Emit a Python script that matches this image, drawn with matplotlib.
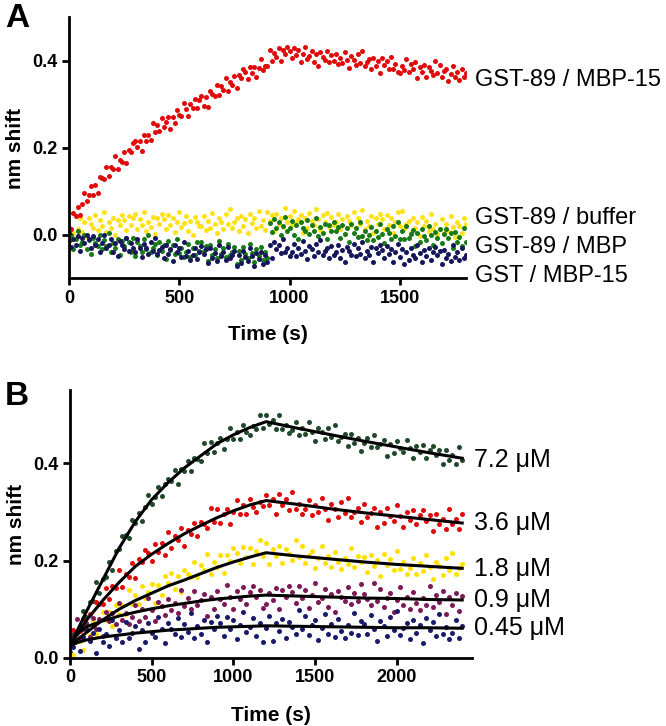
import numpy as np
import matplotlib.pyplot as plt
from matplotlib.ticker import FormatStrFormatter

# ==========================================================
# DONNEES (decalage en pm = 0.001 nm)
# ==========================================================

# Panneau A : une mesure toutes les 10 s
time_a = np.arange(0, 1801, 10)

gst89_mbp15 = [
    16, 14, 51, 44, 64, 45, 72, 97, 78, 92,
    112, 92, 116, 96, 134, 131, 129, 156, 135, 157,
    151, 181, 152, 173, 168, 191, 165, 196, 190, 211,
    215, 202, 217, 194, 229, 215, 230, 218, 257, 236,
    252, 238, 268, 249, 260, 272, 243, 272, 258, 287,
    277, 273, 303, 289, 273, 302, 293, 313, 291, 311,
    320, 297, 318, 295, 330, 324, 320, 345, 322, 342,
    334, 362, 331, 351, 344, 365, 338, 368, 361, 381,
    374, 359, 387, 372, 387, 363, 384, 404, 379, 389,
    389, 426, 399, 419, 410, 429, 399, 426, 416, 433,
    424, 406, 431, 413, 425, 398, 417, 433, 405, 412,
    424, 397, 415, 388, 420, 410, 403, 424, 398, 414,
    401, 417, 392, 408, 396, 421, 402, 384, 411, 403,
    390, 415, 396, 422, 389, 397, 404, 381, 406, 389,
    399, 373, 407, 390, 399, 381, 410, 382, 392, 374,
    373, 389, 379, 405, 374, 392, 381, 397, 362, 386,
    375, 391, 364, 386, 378, 368, 400, 373, 390, 364,
    376, 382, 355, 371, 389, 363, 374, 356, 381, 363, 372,
]

gst89_buffer = [
    -35, -12, 5, -5, 14, 38, 7, 30, -4, 38,
    26, 17, 46, 12, 34, 20, 52, 8, 29, 16,
    39, 0, 35, 22, 46, 34, 12, 44, 22, 38,
    48, 14, 36, 22, 54, 10, 31, 18, 41, 2,
    38, 25, 48, 36, 14, 46, 24, 40, 6, 31,
    53, 18, 27, 44, 10, 33, -1, 41, 29, 20,
    21, 43, 11, 33, 17, 51, 26, 4, 39, 30,
    14, 48, 25, 59, 17, 29, 38, 9, 43, 21,
    36, 4, 48, 27, 40, 17, 56, 21, 34, 11,
    54, 32, 45, 10, 49, 26, 39, 18, 62, 30,
    44, 22, 56, 27, 36, 47, 5, 39, 16, 50,
    33, 24, 59, 37, 12, 45, 29, 51, 19, 41,
    22, 31, 48, 14, 37, 2, 44, 32, 23, 52,
    17, 39, 25, 57, 13, 33, 20, 43, 4, 39,
    25, 48, 36, 14, 46, 23, 39, 5, 30, 52,
    21, 55, 13, 25, 33, 4, 38, 16, 30, -3,
    41, 20, 33, 9, 48, 13, 26, 2, 14, 36,
    4, 25, 9, 43, 18, -5, 30, 21, 4, 38, 25,
]

gst89_mbp = [
    -14, 0, -32, -10, 10, -24, -16, -1, -33, -12,
    -44, -6, -18, -26, -1, -32, -12, -26, 4, -38,
    -18, -30, -10, -46, -13, -26, -6, -17, -38, -8,
    -48, -15, -25, -40, -9, -32, -1, -39, -29, -21,
    -47, -16, -37, -24, -55, -14, -34, -23, -44, -9,
    -42, -30, -51, -40, -20, -51, -30, -45, -15, -37,
    -17, -37, -26, -59, -23, -45, -33, -53, -13, -43,
    -30, -50, -20, -46, -39, -28, -66, -36, -58, -28,
    -43, -52, -20, -41, -63, -33, -48, -27, -58, -38,
    -52, 27, 7, 37, 16, 31, -1, 21, 42, 9,
    17, 32, 1, 22, -9, 29, 17, 9, 35, 3,
    23, 10, 39, -2, 18, 5, 26, -10, 22, 10,
    30, 10, 18, -8, 22, 2, 15, -16, 25, 5,
    16, -5, 31, -3, 9, -11, -1, 19, -11, 10,
    -5, 25, 3, -18, 14, 5, -10, 20, -2, 29,
    -10, 10, -10, 20, -6, 2, 12, -26, 5, -17,
    14, -2, -11, 21, 0, -23, 8, -8, 13, -18,
    2, 13, -8, 4, -30, 6, -16, -4, -25, 16, -15,
]

gst_mbp15 = [
    5, -27, -10, -22, -2, -36, -7, -18, 0, -10,
    -30, -3, -22, -9, -39, -18, 0, -30, -23, -9,
    -38, -19, -48, -13, -24, -32, -8, -37, -19, -31,
    -38, -9, -31, -50, -21, -29, -44, -16, -36, -8,
    -44, -34, -27, -52, -24, -43, -32, -59, -23, -40,
    -30, -50, -17, -48, -37, -57, -47, -29, -56, -38,
    -25, -44, -33, -64, -31, -52, -41, -59, -22, -49,
    -38, -57, -28, -54, -46, -37, -72, -45, -64, -36,
    -51, -59, -30, -49, -71, -42, -56, -38, -66, -47,
    -63, -24, -52, -15, -33, -22, -42, -10, -40, -29,
    -49, -39, -20, -48, -30, -43, -14, -36, -55, -25,
    -33, -48, -20, -39, -11, -47, -37, -29, -54, -26,
    -45, -38, -24, -52, -34, -62, -27, -37, -45, -20,
    -49, -31, -43, -16, -53, -36, -47, -28, -61, -31,
    -42, -23, -34, -53, -26, -44, -32, -61, -40, -21,
    -51, -32, -67, -39, -58, -30, -45, -53, -23, -42,
    -63, -34, -48, -30, -57, -38, -28, -47, -37, -67,
    -34, -54, -43, -60, -23, -51, -39, -58, -29, -54, -46,
]

labels_a = ['GST-89 / MBP-15', 'GST-89 / buffer', 'GST-89 / MBP', 'GST / MBP-15']

# Panneau B : une mesure toutes les 20 s
time_b = np.arange(0, 2401, 20)

conc_7_2 = [
    12, 49, 54, 61, 97, 85, 115, 117, 155, 134,
    163, 166, 197, 180, 220, 223, 251, 253, 247, 283,
    277, 298, 281, 309, 335, 317, 331, 351, 332, 357,
    367, 363, 385, 357, 388, 383, 405, 384, 411, 409,
    405, 442, 421, 444, 423, 441, 452, 428, 449, 471,
    449, 464, 450, 478, 464, 458, 477, 470, 499, 472,
    498, 481, 489, 470, 499, 470, 479, 461, 468, 484,
    457, 473, 460, 484, 464, 446, 471, 463, 449, 473,
    454, 479, 445, 453, 459, 436, 460, 442, 452, 425,
    441, 451, 433, 457, 434, 440, 448, 415, 439, 420,
    445, 431, 423, 448, 430, 410, 435, 422, 437, 411,
    427, 435, 417, 426, 398, 427, 407, 416, 399, 432, 406,
]

conc_3_6 = [
    27, 58, 36, 55, 81, 60, 90, 67, 114, 111,
    111, 144, 121, 148, 143, 180, 146, 172, 167, 194,
    165, 203, 196, 221, 215, 200, 234, 218, 237, 211,
    258, 226, 251, 243, 267, 230, 263, 254, 277, 250,
    279, 274, 266, 308, 280, 305, 277, 295, 306, 276,
    300, 324, 296, 313, 295, 327, 309, 300, 321, 311,
    335, 314, 326, 296, 336, 315, 326, 304, 340, 306,
    317, 296, 306, 325, 294, 315, 299, 329, 306, 284,
    316, 306, 290, 321, 298, 328, 289, 299, 307, 280,
    317, 290, 298, 308, 269, 299, 277, 307, 291, 281,
    314, 292, 269, 300, 284, 304, 274, 293, 303, 282,
    294, 260, 295, 274, 285, 264, 305, 274, 286, 265, 296,
]

conc_1_8 = [
    9, 7, 40, 34, 16, 57, 47, 75, 49, 77,
    95, 77, 95, 65, 109, 91, 108, 91, 139, 111,
    129, 111, 148, 123, 135, 151, 112, 150, 130, 168,
    154, 174, 142, 168, 136, 181, 172, 166, 197, 166,
    191, 180, 214, 173, 196, 186, 211, 174, 211, 200,
    225, 215, 194, 228, 207, 225, 192, 219, 242, 209,
    237, 192, 223, 209, 230, 195, 223, 213, 201, 242,
    207, 229, 195, 211, 219, 184, 205, 229, 194, 210,
    187, 218, 196, 183, 206, 192, 226, 187, 209, 196,
    207, 177, 211, 188, 202, 169, 213, 191, 204, 180,
    219, 183, 196, 172, 184, 205, 173, 194, 178, 211,
    186, 163, 198, 189, 171, 205, 181, 215, 172, 184, 193,
]

conc_0_9 = [
    45, 36, 81, 42, 59, 71, 43, 82, 60, 79,
    46, 95, 75, 92, 69, 113, 77, 92, 70, 84,
    109, 75, 101, 85, 124, 98, 75, 114, 106, 89,
    122, 98, 113, 92, 140, 106, 123, 100, 137, 108,
    118, 132, 87, 125, 100, 138, 121, 111, 150, 126,
    100, 138, 121, 146, 111, 135, 148, 125, 139, 102,
    111, 133, 119, 143, 101, 139, 125, 148, 135, 112,
    147, 123, 139, 102, 129, 153, 115, 124, 142, 105,
    131, 94, 138, 125, 116, 146, 110, 133, 117, 152,
    131, 122, 109, 153, 116, 142, 105, 123, 133, 95,
    119, 145, 108, 125, 101, 136, 112, 99, 123, 109,
    147, 105, 130, 115, 137, 90, 125, 109, 133, 97, 127,
]

conc_0_45 = [
    39, 23, 51, 15, 43, 60, 35, 51, 11, 59,
    32, 49, 24, 77, 40, 58, 33, 73, 40, 52,
    66, 19, 58, 32, 71, 52, 43, 84, 59, 30,
    72, 59, 49, 82, 44, 70, 53, 92, 40, 66,
    50, 78, 33, 74, 60, 86, 72, 46, 85, 59,
    78, 38, 68, 94, 53, 63, 83, 45, 72, 33,
    61, 86, 34, 72, 55, 81, 42, 74, 63, 50,
    98, 59, 86, 47, 67, 77, 36, 62, 91, 50,
    69, 43, 81, 55, 41, 67, 52, 93, 47, 75,
    69, 49, 89, 60, 34, 75, 65, 45, 84, 57,
    96, 48, 61, 71, 38, 77, 51, 68, 30, 82,
    57, 73, 45, 91, 50, 64, 38, 52, 78, 40, 66,
]

# Courbes d'ajustement (association puis dissociation)
fit_time = [0, 50, 100, 200, 300, 400, 500, 600, 700, 800, 900, 1000,
            1100, 1200, 1400, 1600, 1800, 2000, 2200, 2400]
fit_7_2 = [25, 60, 95, 160, 225, 280, 325, 360, 390, 415, 440, 458,
           473, 485, 471, 458, 445, 433, 421, 410]
fit_3_6 = [25, 52, 77, 118, 155, 188, 213, 235, 255, 272, 288, 302,
           314, 323, 315, 306, 298, 291, 284, 277]
fit_1_8 = [25, 39, 52, 78, 100, 118, 133, 148, 160, 173, 186, 197,
           207, 216, 209, 203, 197, 192, 188, 184]
fit_0_9 = [28, 52, 64, 76, 86, 94, 101, 107, 112, 117, 121, 124,
           127, 129, 127, 125, 123, 122, 120, 119]
fit_0_45 = [25, 32, 37, 43, 47, 51, 54, 57, 59, 61, 63, 64,
            65, 66, 65, 64, 63, 62, 62, 61]

labels_b = ['7.2 μM', '3.6 μM', '1.8 μM', '0.9 μM', '0.45 μM']


def style_axes(ax):
    ax.spines['top'].set_visible(False)
    ax.spines['right'].set_visible(False)
    ax.spines['left'].set_linewidth(2)
    ax.spines['bottom'].set_linewidth(2)
    ax.tick_params(direction='out', length=5, width=2, labelsize=13, pad=3)
    for lab in ax.get_xticklabels() + ax.get_yticklabels():
        lab.set_fontweight('bold')
    ax.yaxis.set_major_formatter(FormatStrFormatter('%.1f'))
    ax.set_xlabel('Time (s)', fontsize=15, fontweight='bold')
    ax.set_ylabel('nm shift', fontsize=15, fontweight='bold')
    ax.xaxis.set_label_coords(0.5, -0.18)
    ax.yaxis.set_label_coords(-0.11, 0.5)


def main():

    plt.rcParams['font.family'] = ['Liberation Sans', 'DejaVu Sans']

    fig = plt.figure(figsize=(6.66, 7.26), dpi=100)

    # ==========================================================
    # PANNEAU A
    # ==========================================================

    ax_a = fig.add_axes([0.1036, 0.6164, 0.5961, 0.3595])

    series_a = [gst89_buffer, gst89_mbp, gst_mbp15, gst89_mbp15]
    colors_a = ['#ffe11a', '#177a17', '#16165c', '#e00a0a']
    for values, color in zip(series_a, colors_a):
        ax_a.scatter(time_a, np.array(values) / 1000, s=13, color=color,
                     linewidths=0, zorder=2)

    ax_a.set_xlim(0, 1800)
    ax_a.set_ylim(-0.1, 0.5)
    ax_a.set_xticks([0, 500, 1000, 1500])
    ax_a.set_yticks([0.0, 0.2, 0.4])
    style_axes(ax_a)

    label_y_a = [0.356, 0.039, -0.028, -0.094]
    for text, y in zip(labels_a, label_y_a):
        ax_a.text(1840, y, text, fontsize=17, va='center', ha='left',
                  clip_on=False)

    # ==========================================================
    # PANNEAU B
    # ==========================================================

    ax_b = fig.add_axes([0.1051, 0.0937, 0.6036, 0.3691])

    series_b = [conc_7_2, conc_3_6, conc_1_8, conc_0_9, conc_0_45]
    colors_b = ['#22482c', '#e00a0a', '#ffe000', '#7d1a55', '#1a1a6b']
    for values, color in zip(series_b, colors_b):
        ax_b.scatter(time_b, np.array(values) / 1000, s=13, color=color,
                     linewidths=0, zorder=2)

    fits_b = [fit_7_2, fit_3_6, fit_1_8, fit_0_9, fit_0_45]
    for fit in fits_b:
        ax_b.plot(fit_time, np.array(fit) / 1000, color='black',
                  linewidth=2.2, zorder=3)

    ax_b.set_xlim(0, 2460)
    ax_b.set_ylim(0, 0.55)
    ax_b.set_xticks([0, 500, 1000, 1500, 2000])
    ax_b.set_yticks([0.0, 0.2, 0.4])
    style_axes(ax_b)

    label_y_b = [0.406, 0.2775, 0.182, 0.12, 0.061]
    for text, y in zip(labels_b, label_y_b):
        ax_b.text(2470, y, text, fontsize=18, va='center', ha='left',
                  clip_on=False)

    # ==========================================================
    # LETTRES DES PANNEAUX
    # ==========================================================

    fig.text(5 / 666, 1 - 3 / 726, 'A', fontsize=24, fontweight='bold',
             va='top', ha='left')
    fig.text(5 / 666, 1 - 381 / 726, 'B', fontsize=24, fontweight='bold',
             va='top', ha='left')

    fig.savefig('out.png', dpi=100)


if __name__ == "__main__":
    main()
